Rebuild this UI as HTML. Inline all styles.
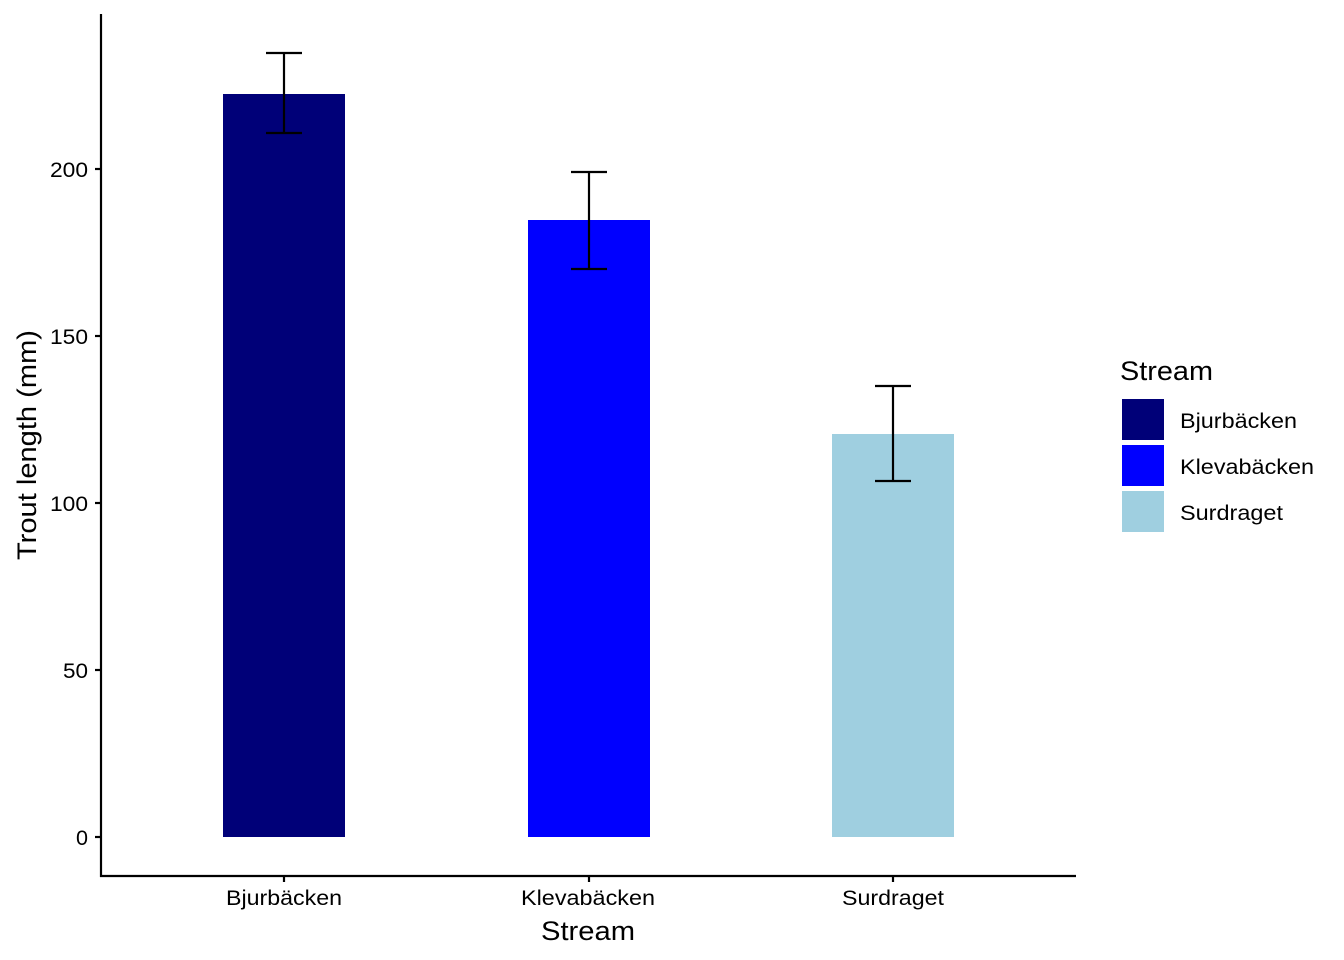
<!DOCTYPE html>
<html><head><meta charset="utf-8"><style>
html,body{margin:0;padding:0;background:#fff;}
svg{display:block;}
text{font-family:"Liberation Sans",Arial,sans-serif;}
</style></head><body>
<svg width="1344" height="960" viewBox="0 0 1344 960" xmlns="http://www.w3.org/2000/svg">
<rect width="1344" height="960" fill="#fff"/>
<rect x="223" y="94" width="122" height="743" fill="#000078"/>
<rect x="528" y="220" width="122" height="617" fill="#0000ff"/>
<rect x="832" y="434" width="122" height="403" fill="#9fcfe0"/>
<g stroke="#000" stroke-width="2.2" fill="none">
<line x1="284" y1="53" x2="284" y2="133"/><line x1="266" y1="53" x2="302" y2="53"/><line x1="266" y1="133" x2="302" y2="133"/>
<line x1="589" y1="172" x2="589" y2="269"/><line x1="571" y1="172" x2="607" y2="172"/><line x1="571" y1="269" x2="607" y2="269"/>
<line x1="893" y1="386" x2="893" y2="481"/><line x1="875" y1="386" x2="911" y2="386"/><line x1="875" y1="481" x2="911" y2="481"/>
</g>
<g stroke="#000" stroke-width="2.2">
<line x1="101" y1="14" x2="101" y2="877"/>
<line x1="100" y1="876" x2="1076" y2="876"/>
<line x1="95" y1="837" x2="101" y2="837"/>
<line x1="95" y1="670" x2="101" y2="670"/>
<line x1="95" y1="503" x2="101" y2="503"/>
<line x1="95" y1="336" x2="101" y2="336"/>
<line x1="95" y1="169" x2="101" y2="169"/>
<line x1="284" y1="876" x2="284" y2="882"/>
<line x1="589" y1="876" x2="589" y2="882"/>
<line x1="893" y1="876" x2="893" y2="882"/>
</g>
<g font-size="21" fill="#000">
<text x="76" y="845" textLength="12" lengthAdjust="spacingAndGlyphs">0</text>
<text x="63" y="678" textLength="25" lengthAdjust="spacingAndGlyphs">50</text>
<text x="50" y="511" textLength="38" lengthAdjust="spacingAndGlyphs">100</text>
<text x="50" y="344" textLength="38" lengthAdjust="spacingAndGlyphs">150</text>
<text x="50" y="177" textLength="38" lengthAdjust="spacingAndGlyphs">200</text>
</g>
<g font-size="21" fill="#000">
<text x="226" y="905" textLength="116" lengthAdjust="spacingAndGlyphs">Bjurbäcken</text>
<text x="521" y="905" textLength="134" lengthAdjust="spacingAndGlyphs">Klevabäcken</text>
<text x="842" y="905" textLength="102" lengthAdjust="spacingAndGlyphs">Surdraget</text>
</g>
<text x="541" y="940" font-size="27" textLength="94" lengthAdjust="spacingAndGlyphs">Stream</text>
<text transform="translate(36,560) rotate(-90)" font-size="27" textLength="230" lengthAdjust="spacingAndGlyphs">Trout length (mm)</text>
<text x="1120" y="380" font-size="27" textLength="93" lengthAdjust="spacingAndGlyphs">Stream</text>
<rect x="1122" y="399" width="42" height="41" fill="#000078"/>
<rect x="1122" y="445" width="42" height="41" fill="#0000ff"/>
<rect x="1122" y="491" width="42" height="41" fill="#9fcfe0"/>
<g font-size="21">
<text x="1180" y="428" textLength="117" lengthAdjust="spacingAndGlyphs">Bjurbäcken</text>
<text x="1180" y="474" textLength="134" lengthAdjust="spacingAndGlyphs">Klevabäcken</text>
<text x="1180" y="520" textLength="103" lengthAdjust="spacingAndGlyphs">Surdraget</text>
</g>
</svg>
</body></html>
